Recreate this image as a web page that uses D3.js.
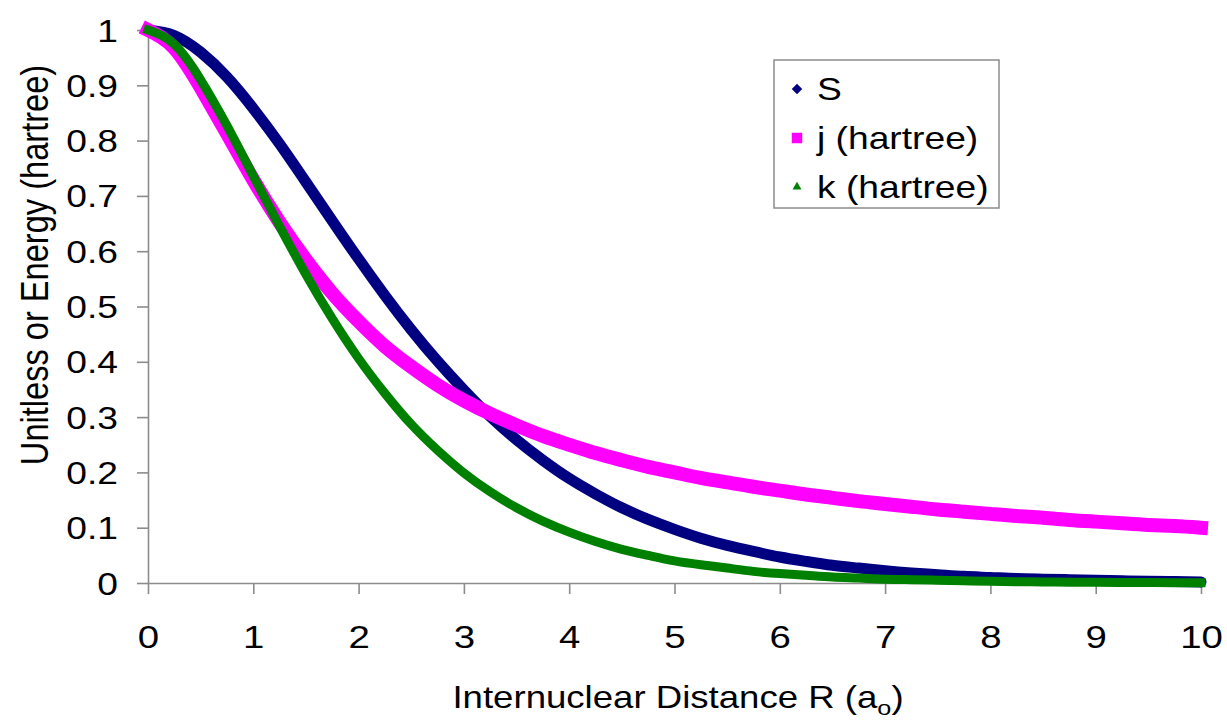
<!DOCTYPE html>
<html>
<head>
<meta charset="utf-8">
<script src="https://cdn.jsdelivr.net/npm/d3@7"></script>
<style>
  html, body { margin: 0; padding: 0; background: #fff; }
  text { font-family: Arial, "Liberation Sans", sans-serif; fill: #000; }
</style>
</head>
<body>
<script>
// internuclear distance R (a0), every 0.25
const distance = [0, 0.25, 0.5, 0.75, 1, 1.25, 1.5, 1.75, 2, 2.25, 2.5, 2.75, 3, 3.25, 3.5, 3.75,
    4, 4.25, 4.5, 4.75, 5, 5.25, 5.5, 5.75, 6, 6.25, 6.5, 6.75, 7, 7.25, 7.5, 7.75,
    8, 8.25, 8.5, 8.75, 9, 9.25, 9.5, 9.75, 10]

const sValues = [1, 0.990, 0.960, 0.915, 0.858, 0.794, 0.725, 0.655, 0.586, 0.520, 0.458, 0.401,
    0.349, 0.301, 0.259, 0.222, 0.189, 0.161, 0.136, 0.115, 0.097, 0.081, 0.068, 0.057,
    0.047, 0.039, 0.032, 0.027, 0.022, 0.018, 0.015, 0.012, 0.010, 0.008, 0.007, 0.006,
    0.005, 0.004, 0.003, 0.0025, 0.002]

const jValues = [1, 0.967, 0.896, 0.813, 0.729, 0.652, 0.584, 0.524, 0.473, 0.428, 0.391, 0.358,
    0.330, 0.306, 0.285, 0.266, 0.250, 0.235, 0.222, 0.210, 0.200, 0.190, 0.182, 0.174,
    0.167, 0.160, 0.154, 0.148, 0.143, 0.138, 0.133, 0.129, 0.125, 0.121, 0.118, 0.114,
    0.111, 0.108, 0.105, 0.103, 0.100]

const kValues = [1, 0.974, 0.910, 0.827, 0.736, 0.645, 0.558, 0.478, 0.406, 0.343, 0.287, 0.240,
    0.199, 0.165, 0.136, 0.112, 0.092, 0.075, 0.061, 0.050, 0.040, 0.033, 0.027, 0.021,
    0.017, 0.014, 0.011, 0.009, 0.007, 0.006, 0.005, 0.004, 0.003, 0.0024, 0.002, 0.0015,
    0.0012, 0.001, 0.0008, 0.0006, 0.0005]

const xTicks = [0, 1, 2, 3, 4, 5, 6, 7, 8, 9, 10]
const yTicks = [0, 0.1, 0.2, 0.3, 0.4, 0.5, 0.6, 0.7, 0.8, 0.9, 1]

const series = [
    { name: 'S', values: sValues, color: '#000080', width: 11, cap: 'round', symbol: d3.symbolSquare, size: 55, rotate: 45 },
    { name: 'j (hartree)', values: jValues, color: '#ff00ff', width: 14, cap: 'square', symbol: d3.symbolSquare, size: 110, rotate: 0 },
    { name: 'k (hartree)', values: kValues, color: '#008000', width: 9, cap: 'square', symbol: d3.symbolTriangle, size: 35, rotate: 0 }
]

const W = 1227, H = 722
const margin = { top: 30, right: 26, bottom: 139, left: 148 }
const width = W - margin.left - margin.right
const height = H - margin.top - margin.bottom
const stretch = 1.2 // text in the picture is a bit wider than tall

const svg = d3.select('body').append('svg')
    .attr('width', W)
    .attr('height', H)

const g = svg.append('g')
    .attr('transform', `translate(${margin.left}, ${margin.top})`)

const xScale = d3.scaleLinear().domain([0, 10]).range([0, width])
const yScale = d3.scaleLinear().domain([0, 1]).range([height, 0])

// axes
const xAxis = d3.axisBottom(xScale).tickValues(xTicks).tickSize(11).tickSizeOuter(0).tickFormat(d3.format('d'))
const yAxis = d3.axisLeft(yScale).tickValues(yTicks).tickSize(11).tickSizeOuter(0).tickFormat(d => d)

const gx = g.append('g')
    .attr('transform', `translate(0, ${height})`)
    .call(xAxis)
gx.selectAll('text')
    .attr('y', 65).attr('dy', null)
    .attr('font-size', 32)
    .attr('transform', `scale(${stretch},1)`)

const gy = g.append('g').call(yAxis)
gy.selectAll('text')
    .attr('x', -30 / stretch).attr('dy', null).attr('y', 11)
    .attr('font-size', 31)
    .attr('transform', `scale(${stretch},1)`)

g.selectAll('.domain, .tick line')
    .attr('stroke', '#8c8c8c')
    .attr('stroke-width', 1.6)
g.selectAll('.tick text').attr('fill', '#000').attr('font-family', 'Arial, "Liberation Sans", sans-serif')

// series: dense markers drawn as thick lines, S under j under k
const line = d3.line()
    .x((d, i) => xScale(distance[i]))
    .y(d => yScale(d))
    .curve(d3.curveNatural)

g.selectAll('path.series')
    .data(series)
    .enter().append('path')
    .attr('class', 'series')
    .attr('d', d => line(d.values))
    .attr('fill', 'none')
    .attr('stroke', d => d.color)
    .attr('stroke-width', d => d.width)
    .attr('stroke-linecap', d => d.cap)
    .attr('stroke-linejoin', 'round')

// axis titles
svg.append('text')
    .attr('transform', `translate(678, 708) scale(${stretch},1)`)
    .attr('text-anchor', 'middle')
    .attr('font-size', 30.5)
    .call(t => {
        t.append('tspan').text('Internuclear Distance R (a')
        t.append('tspan').attr('font-size', 21).attr('dy', 7).text('o')
        t.append('tspan').attr('dy', -7).text(')')
    })

svg.append('text')
    .attr('transform', `translate(48, 265) scale(${stretch},1) rotate(-90)`)
    .attr('text-anchor', 'middle')
    .attr('font-size', 32.6)
    .text('Unitless or Energy (hartree)')

// legend
const legend = svg.append('g')
legend.append('rect')
    .attr('x', 774).attr('y', 60)
    .attr('width', 225).attr('height', 148)
    .attr('fill', '#fff')
    .attr('stroke', '#8c8c8c')
    .attr('stroke-width', 1.5)

const rows = legend.selectAll('g.row')
    .data(series)
    .enter().append('g')
    .attr('class', 'row')
    .attr('transform', (d, i) => `translate(797, ${89 + i * 49})`)

rows.append('path')
    .attr('d', d => d3.symbol().type(d.symbol).size(d.size)())
    .attr('transform', d => `rotate(${d.rotate})`)
    .attr('fill', d => d.color)

rows.append('text')
    .attr('transform', `translate(20, 11) scale(${stretch},1)`)
    .attr('font-size', 31)
    .text(d => d.name)
</script>
</body>
</html>
